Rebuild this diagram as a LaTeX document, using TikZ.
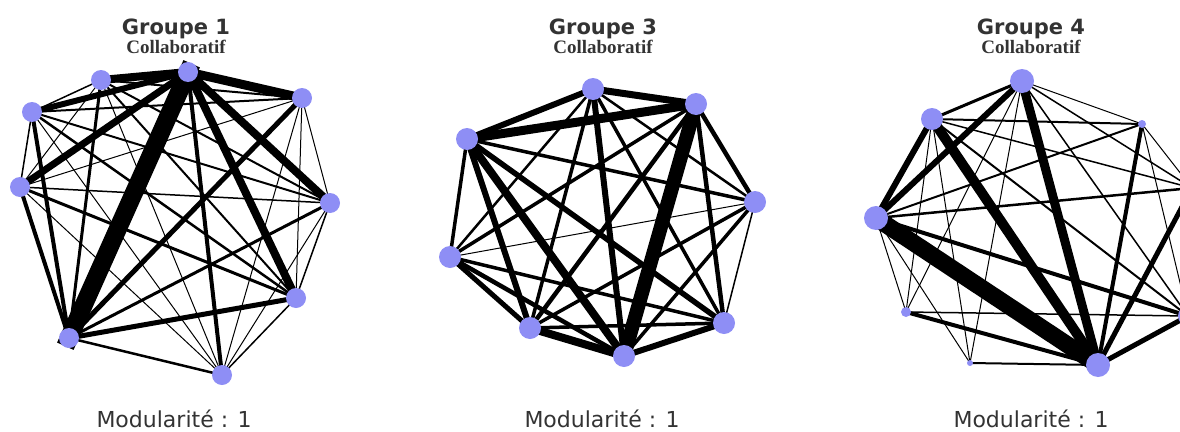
\documentclass[tikz,border=0pt]{standalone}
\usepackage{fontspec}
\usetikzlibrary{backgrounds}
\newfontfamily\headfont{DejaVu Sans}
\newfontfamily\subfont{Liberation Serif}
\definecolor{nodeblue}{RGB}{142,142,245}
\definecolor{textgray}{RGB}{51,51,51}

\begin{document}
\begin{tikzpicture}[x=1pt,y=-1pt]
  \tikzstyle{vertex} = [circle, fill=nodeblue, inner sep=0pt, minimum size=20pt]
  \tikzstyle{title} = [anchor=base, text=textgray, font=\headfont\bfseries\fontsize{21pt}{21pt}\selectfont]
  \tikzstyle{subtitle} = [anchor=base, text=textgray, font=\subfont\bfseries\fontsize{19pt}{19pt}\selectfont]
  \tikzstyle{score} = [anchor=base, text=textgray, font=\headfont\fontsize{22pt}{22pt}\selectfont]
  \tikzstyle{link} = [black]

  \useasboundingbox (0,0) rectangle (1180,431);
  \clip (0,0) rectangle (1180,431);

  % Groupe 1
  \node (t1) [title] at (176,34) {Groupe 1};
  \node (s1) [subtitle] at (176,53) {Collaboratif};
  \node (m1) [score] at (174,427) {Modularité : 1};
  \node (a1) [vertex] at (188,72) {};
  \node (a2) [vertex] at (101,80) {};
  \node (a3) [vertex] at (32,112) {};
  \node (a4) [vertex] at (20,187) {};
  \node (a5) [vertex] at (302,98) {};
  \node (a6) [vertex] at (330,203) {};
  \node (a7) [vertex] at (296,298) {};
  \node (a8) [vertex] at (222,375) {};
  \node (a9) [vertex] at (69,338) {};

  % Groupe 3
  \node (t3) [title] at (603,34) {Groupe 3};
  \node (s3) [subtitle] at (603,53) {Collaboratif};
  \node (m3) [score] at (602,427) {Modularité : 1};
  \node (b1) [vertex, minimum size=22pt] at (593,89) {};
  \node (b2) [vertex, minimum size=22pt] at (696,104) {};
  \node (b3) [vertex, minimum size=22pt] at (467,139) {};
  \node (b4) [vertex, minimum size=22pt] at (755,202) {};
  \node (b5) [vertex, minimum size=22pt] at (450,257) {};
  \node (b6) [vertex, minimum size=22pt] at (530,328) {};
  \node (b7) [vertex, minimum size=22pt] at (624,356) {};
  \node (b8) [vertex, minimum size=22pt] at (724,323) {};

  % Groupe 4
  \node (t4) [title] at (1031,34) {Groupe 4};
  \node (s4) [subtitle] at (1031,53) {Collaboratif};
  \node (m4) [score] at (1031,427) {Modularité : 1};
  \node (c1) [vertex, minimum size=24pt] at (1022,81) {};
  \node (c2) [vertex, minimum size=22pt] at (932,119) {};
  \node (c3) [vertex, minimum size=8pt] at (1142,124) {};
  \node (c4) [vertex, minimum size=24pt] at (876,218) {};
  \node (c5) [vertex] at (1192,188) {};
  \node (c6) [vertex] at (1188,316) {};
  \node (c7) [vertex, minimum size=24pt] at (1098,365) {};
  \node (c8) [vertex, minimum size=6pt] at (970,363) {};
  \node (c9) [vertex, minimum size=10pt] at (906,312) {};

  \begin{pgfonlayer}{background}
    \foreach \u/\v/\w in {a1/a2/8, a1/a3/6, a1/a4/7, a1/a5/9, a1/a6/8, a1/a7/8, a1/a8/4,
      a2/a3/1.5, a2/a4/1, a2/a5/2, a2/a6/2, a2/a7/2, a2/a8/1, a2/a9/3,
      a3/a4/1.5, a3/a5/2, a3/a6/2, a3/a7/2.5, a3/a8/1, a3/a9/4,
      a4/a5/1, a4/a6/1.5, a4/a7/3, a4/a8/1, a4/a9/4,
      a5/a6/1, a5/a7/1, a5/a8/1, a5/a9/5,
      a6/a7/1.5, a6/a8/1, a6/a9/3, a7/a8/1.5, a7/a9/5, a8/a9/2.5}
      \draw [link, line width=\w pt] (\u.center) -- (\v.center);
    \draw [link, line width=18pt, line cap=rect] (a1.center) -- (a9.center);

    \foreach \u/\v/\w in {b1/b2/7, b1/b3/6, b1/b4/2.5, b1/b5/2.5, b1/b6/3.5, b1/b7/6, b1/b8/3.5,
      b2/b3/9, b2/b4/4.5, b2/b5/3.5, b2/b6/4.5, b2/b7/14, b2/b8/4.5,
      b3/b4/3.5, b3/b5/3.5, b3/b6/6, b3/b7/8, b3/b8/5.5,
      b4/b5/1, b4/b6/3.5, b4/b7/3.5, b4/b8/1.5,
      b5/b6/5, b5/b7/4.5, b5/b8/3.5, b6/b7/8, b6/b8/3.5, b7/b8/6}
      \draw [link, line width=\w pt] (\u.center) -- (\v.center);

    \foreach \u/\v/\w in {c1/c2/3, c1/c3/1, c1/c4/6, c1/c5/1.5, c1/c6/1.5, c1/c7/9, c1/c8/1, c1/c9/1,
      c2/c3/2, c2/c4/6, c2/c5/1.5, c2/c6/2, c2/c7/10, c2/c8/1, c2/c9/1,
      c3/c4/2, c3/c5/1, c3/c6/1, c3/c7/4,
      c4/c5/2.5, c4/c6/4, c4/c7/17, c4/c8/1, c4/c9/1,
      c5/c7/5, c6/c7/5, c6/c9/1.5, c7/c8/2, c7/c9/4}
      \draw [link, line width=\w pt] (\u.center) -- (\v.center);
  \end{pgfonlayer}
\end{tikzpicture}
\end{document}
